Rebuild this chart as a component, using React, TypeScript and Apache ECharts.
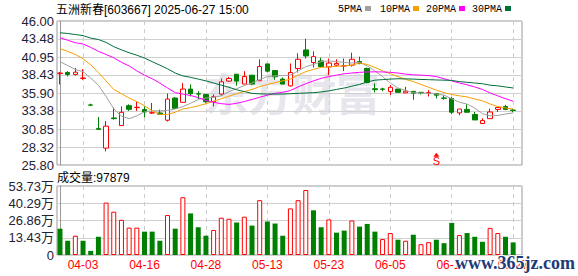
import React, { useEffect, useRef } from 'react';
import * as echarts from 'echarts';

// ---------- data ----------
const stockTitle = '五洲新春[603667] 2025-06-27 15:00';
const dates = ['03-31','04-01','04-02','04-03','04-07','04-08','04-09','04-10','04-11','04-14','04-15','04-16','04-17','04-18','04-21','04-22','04-23','04-24','04-25','04-28','04-29','04-30','05-06','05-07','05-08','05-09','05-12','05-13','05-14','05-15','05-16','05-19','05-20','05-21','05-22','05-23','05-26','05-27','05-28','05-29','05-30','06-03','06-04','06-05','06-06','06-09','06-10','06-11','06-12','06-13','06-16','06-17','06-18','06-19','06-20','06-23','06-24','06-25','06-26','06-27'];
const opens = [38.62,38.78,38.50,37.95,34.22,30.90,28.17,32.40,31.33,34.12,33.85,33.57,33.10,33.10,32.08,35.19,34.59,36.45,35.80,35.70,34.68,35.75,37.57,38.54,37.15,38.40,37.62,39.98,39.05,37.85,36.90,39.33,41.94,40.17,40.40,39.56,39.80,39.70,39.80,40.31,39.33,36.50,36.46,36.10,36.45,35.92,36.13,36.00,35.94,35.80,35.20,35.14,33.11,33.60,32.88,31.62,32.30,33.60,34.00,33.50];
const closes = [38.70,38.50,38.82,38.00,34.20,30.80,31.24,32.30,33.19,33.61,33.90,33.24,33.12,32.92,35.05,33.75,36.45,35.80,35.75,34.68,35.38,37.47,37.94,37.57,38.22,37.15,39.61,38.96,38.17,37.15,38.77,40.63,41.10,41.00,39.61,40.10,40.05,39.72,40.63,40.03,37.38,36.38,36.43,36.70,36.00,36.15,35.88,35.93,35.96,35.59,35.16,33.20,33.65,33.20,32.12,32.03,33.24,33.87,33.60,33.45];
const lows = [37.10,38.22,38.36,37.75,34.08,30.78,27.71,32.17,31.30,33.38,33.38,32.50,33.00,32.82,31.89,33.66,34.59,35.43,35.05,34.50,34.03,35.52,37.47,36.92,37.15,37.00,37.60,38.80,37.75,37.15,36.80,38.77,40.73,39.47,39.47,38.40,39.60,38.96,39.60,39.93,37.24,35.98,36.17,35.62,35.95,35.92,34.96,35.68,35.41,35.14,34.96,32.93,32.79,33.20,32.12,31.62,32.30,33.24,33.50,33.24];
const highs = [38.87,38.96,39.43,39.24,34.40,32.54,31.98,33.85,34.03,34.31,34.68,34.03,34.50,33.57,35.84,35.30,37.29,37.10,36.17,35.70,35.70,37.94,38.17,38.54,38.96,38.40,40.63,39.98,39.05,38.08,40.03,41.47,43.52,41.75,40.86,40.73,40.63,40.73,41.56,41.00,39.47,37.24,36.64,37.00,36.50,36.77,36.13,36.00,36.31,35.80,35.59,35.32,33.65,34.33,33.24,32.34,33.70,33.87,34.24,33.70];
const prevCloseBeforeStart = 39.2;
// volume in 万 (10k shares)
const volumes = [20.5,11.1,15.0,11.1,3.2,14.2,40.8,33.7,27.4,21.3,21.3,18.2,18.2,11.1,31.1,20.5,45.0,32.4,21.6,15.0,19.5,29.0,28.2,25.3,29.8,22.9,42.7,26.1,24.5,15.0,36.3,42.7,50.6,34.8,21.6,27.7,17.4,19.0,26.9,22.1,24.2,18.2,12.4,17.1,11.9,11.1,15.8,8.4,10.0,11.9,9.2,25.0,15.5,17.1,14.2,10.3,21.1,17.1,14.2,9.79];
const lastVolumeHands = 97879;
const ma5 = [40.3,39.75,39.2,38.9,38.0,37.0,35.4,33.7,32.65,32.3,32.7,33.25,33.4,33.4,33.45,33.65,34.0,34.45,35.0,35.2,35.3,35.5,36.1,36.5,36.95,37.3,37.8,38.2,38.3,38.35,38.4,39.0,39.6,39.9,40.3,40.4,40.3,40.2,40.1,40.2,39.7,39.0,38.2,37.3,36.6,36.25,35.95,35.9,35.85,35.75,35.6,35.1,34.6,34.35,33.8,33.0,32.7,32.75,32.95,33.1];
const ma10 = [42.1,41.75,41.3,40.7,39.85,38.77,37.6,36.4,35.8,35.2,34.7,34.1,33.4,32.9,32.9,33.2,33.65,33.85,34.1,34.4,34.75,35.1,35.45,35.8,36.1,36.4,36.8,37.1,37.35,37.6,37.84,38.4,38.9,39.2,39.5,39.55,39.65,39.7,39.8,40.1,39.9,39.5,39.0,38.6,38.2,37.8,37.5,37.1,36.7,36.3,35.95,35.7,35.5,35.35,35.05,34.8,34.35,34.0,33.8,33.65];
const ma20 = [43.66,43.3,42.95,42.78,42.3,41.75,41.3,40.85,40.2,39.7,39.0,38.4,37.9,37.3,36.6,35.95,35.75,35.55,35.25,34.85,34.6,34.4,34.3,34.45,34.7,35.0,35.3,35.6,35.85,36.0,36.25,36.75,37.2,37.6,37.95,38.2,38.4,38.6,38.7,38.8,38.85,38.87,38.85,38.8,38.7,38.55,38.45,38.4,38.35,38.2,37.9,37.6,37.3,37.05,36.75,36.4,35.9,35.5,35.1,34.75];
const ma30 = [44.35,44.25,44.1,43.95,43.6,43.4,43.0,42.4,41.95,41.55,41.2,40.8,40.3,39.8,39.3,38.7,38.3,38.1,37.85,37.6,37.3,37.0,36.7,36.35,36.1,35.85,35.78,35.75,35.75,35.75,35.8,35.85,35.9,35.95,36.05,36.2,36.4,36.6,36.85,37.1,37.45,37.7,37.78,37.85,37.9,37.88,37.85,37.8,37.77,37.73,37.7,37.66,37.5,37.4,37.3,37.2,37.0,36.9,36.75,36.6];
const priceTickLabels = ['25.80','28.32','30.85','33.38','35.90','38.43','40.95','43.48','46.00'];
const volumeTickValues = [0, 13.43, 26.86, 40.29, 53.73];
const axisDateLabels = ['04-03','04-16','04-28','05-13','05-23','06-05','06-17','06-27'];
const sellSignalDate = '06-13';
const maNames = ['5PMA', '10PMA', '20PMA', '30PMA'];

// ---------- styles ----------
const RED = '#ff0000';
const GREEN = '#008000';
const MA_COLORS = ['#a0a0a0', '#f5a000', '#ff00ff', '#006f3a'];
const SANS = '"Liberation Sans", Arial, "Noto Sans CJK SC", sans-serif';
const MONO = '"Liberation Mono", "DejaVu Sans Mono", monospace';

function buildOption() {
  const priceTickValues = priceTickLabels.map(Number);
  const priceMin = priceTickValues[0];
  const priceMax = priceTickValues[priceTickValues.length - 1];
  const labelIdx = axisDateLabels.map((d) => dates.indexOf(d));
  const xMin = -0.39;
  const xMax = 60.15;

  const candleData = dates.map((_, i) => [i, opens[i], closes[i], lows[i], highs[i]]);
  const volData = volumes.map((v, i) => {
    const prev = i === 0 ? prevCloseBeforeStart : closes[i - 1];
    const up = closes[i] >= prev;
    return {
      value: [i, v],
      itemStyle: up
        ? { color: '#ffffff', borderColor: RED, borderWidth: 1 }
        : { color: GREEN, borderColor: GREEN, borderWidth: 0 },
    };
  });
  const maSeries = [ma5, ma10, ma20, ma30].map((arr, k) => ({
    type: 'line',
    name: maNames[k],
    xAxisIndex: 0,
    yAxisIndex: 0,
    data: arr.map((v, i) => [i, v]),
    showSymbol: false,
    symbol: 'none',
    lineStyle: { width: 1, color: MA_COLORS[k] },
    silent: true,
    z: 3,
  }));

  const sIdx = dates.indexOf(sellSignalDate);

  const nearestPriceLabel = (v: number) => {
    let best = 0;
    priceTickValues.forEach((t, i) => {
      if (Math.abs(t - v) < Math.abs(priceTickValues[best] - v)) best = i;
    });
    return priceTickLabels[best];
  };

  const legendX = [338, 380, 426, 472];
  const legendSquareX = [365, 413, 459, 505];

  const graphics: any[] = [
    {
      type: 'text', x: 292, y: 92, z: 0, silent: true,
      style: { text: '东方财富', font: 'bold 44px "Noto Sans CJK SC", sans-serif', fill: '#e6e6ec', textAlign: 'center', textVerticalAlign: 'middle' },
    },
    {
      type: 'text', x: 56, y: 10, z: 100,
      style: { text: stockTitle, font: `12px ${SANS}`, fill: '#000', textVerticalAlign: 'middle' },
    },
    {
      type: 'text', x: 57, y: 178, z: 100,
      style: { text: `成交量:${lastVolumeHands}`, font: `12px ${SANS}`, fill: '#000', textVerticalAlign: 'middle' },
    },
    {
      type: 'text', x: 455, y: 263, z: 100,
      style: { text: 'www.365jz.com', font: 'bold 18px "Liberation Serif", serif', fill: '#1d3b78', stroke: '#ffffff', lineWidth: 2, textVerticalAlign: 'middle' },
    },
  ];
  maNames.forEach((n, k) => {
    graphics.push({
      type: 'text', x: legendX[k], y: 9, z: 100,
      style: { text: n, font: `10px ${MONO}`, fill: '#000', textVerticalAlign: 'middle' },
    });
    graphics.push({
      type: 'rect', z: 100,
      shape: { x: legendSquareX[k], y: 6, width: 6, height: 5 },
      style: { fill: MA_COLORS[k] },
    });
  });

  return {
    animation: false,
    backgroundColor: '#ffffff',
    grid: [
      { left: 57, top: 21, width: 465, height: 144, show: true, borderColor: '#999', borderWidth: 1, backgroundColor: 'transparent' },
      { left: 57, top: 186, width: 465, height: 69, show: true, borderColor: '#999', borderWidth: 1, backgroundColor: 'transparent' },
    ],
    xAxis: [
      {
        type: 'value', gridIndex: 0, min: xMin, max: xMax,
        axisLine: { show: false }, axisLabel: { show: false },
        axisTick: { show: false, customValues: labelIdx },
        splitLine: { show: true, lineStyle: { color: '#cccccc', type: [4, 4], width: 1 } },
      },
      {
        type: 'value', gridIndex: 1, min: xMin, max: xMax,
        axisLine: { show: false },
        axisTick: { show: false, customValues: labelIdx },
        axisLabel: {
          customValues: labelIdx,
          formatter: (v: number) => dates[Math.round(v)],
          color: RED, fontSize: 12, fontFamily: SANS, margin: 4,
        },
        splitLine: { show: true, lineStyle: { color: '#cccccc', type: [4, 4], width: 1 } },
      },
    ],
    yAxis: [
      {
        type: 'value', gridIndex: 0, min: priceMin, max: priceMax, scale: true,
        axisLine: { show: true, lineStyle: { color: '#999' } },
        axisTick: { show: false, customValues: priceTickValues },
        axisLabel: {
          customValues: priceTickValues,
          formatter: (v: number) => nearestPriceLabel(v),
          color: '#222233', fontSize: 13, fontFamily: SANS, margin: 3,
        },
        splitLine: { show: true, lineStyle: { color: '#d0d0d0', width: 1 } },
      },
      {
        type: 'value', gridIndex: 1, min: 0, max: volumeTickValues[volumeTickValues.length - 1],
        axisLine: { show: true, lineStyle: { color: '#999' } },
        axisTick: { show: false, customValues: volumeTickValues },
        axisLabel: {
          customValues: volumeTickValues,
          formatter: (v: number) => (v === 0 ? '0' : `${v.toFixed(2)}万`),
          color: '#222233', fontSize: 13, fontFamily: SANS, margin: 3,
        },
        splitLine: { show: true, lineStyle: { color: '#d0d0d0', width: 1 } },
      },
    ],
    series: [
      {
        type: 'candlestick',
        xAxisIndex: 0,
        yAxisIndex: 0,
        data: candleData,
        barWidth: 5,
        silent: true,
        itemStyle: {
          color: '#ffffff',
          color0: GREEN,
          borderColor: RED,
          borderColor0: GREEN,
          borderWidth: 1,
        },
        markPoint: {
          silent: true,
          data: [
            {
              coord: [sIdx, 27.25],
              symbol: 'triangle',
              symbolSize: [6, 4],
              itemStyle: { color: RED },
              label: { show: false },
            },
            {
              coord: [sIdx, 26.42],
              symbol: 'rect',
              symbolSize: [1, 1],
              itemStyle: { color: 'transparent' },
              label: { show: true, position: 'inside', formatter: 'S', color: RED, fontSize: 11, fontFamily: SANS },
            },
          ],
        },
      },
      ...maSeries,
      {
        type: 'bar',
        xAxisIndex: 1,
        yAxisIndex: 1,
        data: volData,
        barWidth: 5,
        silent: true,
      },
    ],
    graphic: graphics,
  };
}

export default function App() {
  const ref = useRef<HTMLDivElement>(null);
  useEffect(() => {
    if (!ref.current) return;
    const chart = echarts.init(ref.current, null, { renderer: 'svg' });
    chart.setOption(buildOption() as any);
    return () => chart.dispose();
  }, []);
  return <div ref={ref} style={{ position: 'fixed', left: 0, top: 0, width: 578, height: 276 }} />;
}
